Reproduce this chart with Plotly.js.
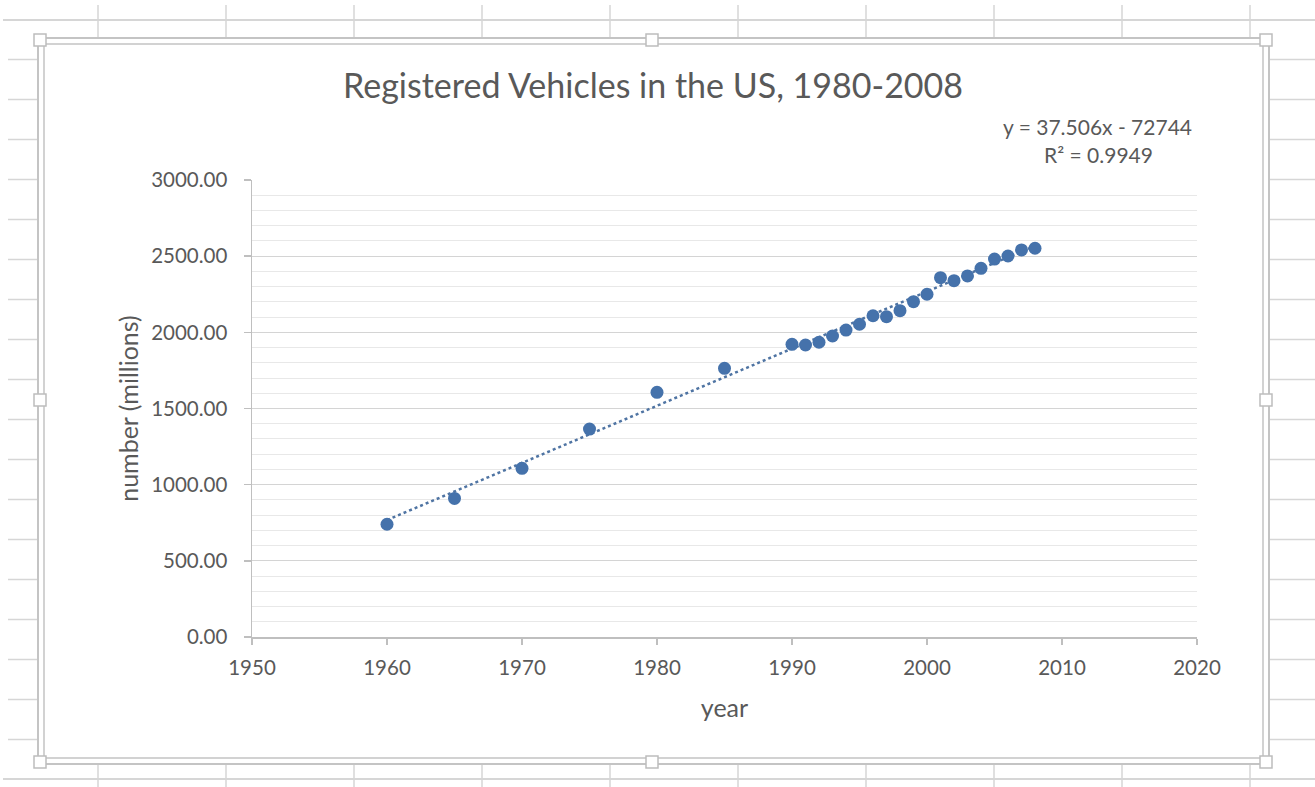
<!DOCTYPE html>
<html>
<head>
<meta charset="utf-8">
<script src="https://cdn.plot.ly/plotly-3.0.1.min.js"></script>
<style>
  html, body { margin: 0; padding: 0; background: #ffffff; }
  #chart { width: 1315px; height: 787px; }
</style>
</head>
<body>
<div id="chart"></div>
<script>
// ---- data ----
const years = [1960, 1965, 1970, 1975, 1980, 1985, 1990, 1991, 1992, 1993, 1994, 1995, 1996, 1997, 1998, 1999, 2000, 2001, 2002, 2003, 2004, 2005, 2006, 2007, 2008];
const vehicles = [740, 910, 1107, 1365, 1606, 1764, 1921, 1917, 1935, 1976, 2015, 2053, 2109, 2103, 2142, 2201, 2250, 2359, 2339, 2370, 2420, 2481, 2501, 2541, 2552];
const trendSlope = 37.506;
const trendIntercept = -72744;
const trendSpan = [1960, 2008];
const equationText = "y = 37.506x - 72744";
const r2Text = "R² = 0.9949";
const chartTitle = "Registered Vehicles in the US, 1980-2008";
const xTitle = "year";
const yTitle = "number (millions)";

// ---- page geometry ----
const W = 1315, H = 787;
const L = 252, R = 1197, T = 180, B = 637;
const xp = px => (px - L) / (R - L);
const yp = py => (B - py) / (B - T);

const FONT = "Lato, 'Open Sans', sans-serif";
const TXT = "#595959";
const sheet = "#d6d6d6";
const frame = "#c4c4c4";

const shapes = [];
function line(x0, y0, x1, y1, color, width) {
  shapes.push({type: "line", xref: "paper", yref: "paper",
    x0: xp(x0), y0: yp(y0), x1: xp(x1), y1: yp(y1),
    line: {color: color, width: width}, layer: "above"});
}
function rect(x0, y0, x1, y1, color, width, fill) {
  shapes.push({type: "rect", xref: "paper", yref: "paper",
    x0: xp(x0), y0: yp(y0), x1: xp(x1), y1: yp(y1),
    line: {color: color, width: width}, fillcolor: fill || "rgba(0,0,0,0)", layer: "above"});
}
// spreadsheet cell grid behind the chart object
line(3, 20, W, 20, sheet, 2);
line(3, 779, W, 779, sheet, 2);
for (let k = 0; k < 18; k++) {
  const y = 59.5 + 40 * k;
  line(8, y, 37, y, sheet, 1.5);
  line(1270, y, W, y, sheet, 1.5);
}
for (let k = 0; k < 10; k++) {
  const x = 98 + 128 * k;
  line(x, 5, x, 37, sheet, 1.5);
  line(x, 765, x, 787, sheet, 1.5);
}
// chart object frame (double line) and handles
rect(38, 38, 1269, 764, frame, 2);
rect(44, 44, 1263, 758, frame, 1.5);
[[40, 40], [652, 40], [1266, 40], [40, 400], [1266, 400], [40, 762], [652, 762], [1266, 762]].forEach(p => {
  rect(p[0] - 6, p[1] - 6, p[0] + 6, p[1] + 6, "#bdbdbd", 1.5, "#ffffff");
});

// trendline from the fitted equation
const trendX = trendSpan;
const trendY = trendSpan.map(x => trendSlope * x + trendIntercept);

const data = [
  {
    x: trendX, y: trendY, type: "scatter", mode: "lines",
    line: {color: "#4f74a3", width: 2.5, dash: "dot"},
    hoverinfo: "skip", showlegend: false
  },
  {
    x: years, y: vehicles, type: "scatter", mode: "markers",
    marker: {color: "#4572ab", size: 13, line: {width: 0}},
    showlegend: false
  }
];

const layout = {
  width: W, height: H,
  margin: {l: L, r: W - R, t: T, b: H - B, pad: 0},
  paper_bgcolor: "#ffffff", plot_bgcolor: "#ffffff",
  font: {family: FONT, color: TXT, size: 20.5},
  showlegend: false,
  title: {
    text: chartTitle, font: {family: FONT, size: 34, color: TXT},
    xref: "container", yref: "container", x: 653 / W, y: 1 - 86 / H,
    xanchor: "center", yanchor: "middle"
  },
  xaxis: {
    range: [1950, 2020], dtick: 10, tick0: 1950,
    showgrid: false, zeroline: false,
    showline: true, linecolor: "#bfbfbf", linewidth: 1.5,
    ticks: "outside", ticklen: 6, tickcolor: "#bfbfbf", tickwidth: 1.5,
    tickfont: {family: FONT, size: 20.5, color: TXT},
    ticklabelstandoff: 6,
    title: {text: xTitle, font: {family: FONT, size: 25, color: TXT}, standoff: 21}
  },
  yaxis: {
    range: [0, 3000], dtick: 500, tick0: 0,
    tickformat: ".2f",
    showgrid: true, gridcolor: "#d4d4d4", gridwidth: 1.2,
    minor: {dtick: 100, showgrid: true, gridcolor: "#e8e8e8", gridwidth: 1},
    zeroline: false,
    showline: true, linecolor: "#bfbfbf", linewidth: 1.5,
    ticks: "outside", ticklen: 7, tickcolor: "#bfbfbf", tickwidth: 1.5,
    tickfont: {family: FONT, size: 20.5, color: TXT},
    ticklabelstandoff: 12,
    title: {text: yTitle, font: {family: FONT, size: 25, color: TXT}, standoff: 5}
  },
  annotations: [
    {text: equationText, xref: "paper", yref: "paper", x: xp(1097), y: yp(126),
     xanchor: "center", yanchor: "middle", showarrow: false,
     font: {family: FONT, size: 21, color: TXT}},
    {text: r2Text, xref: "paper", yref: "paper", x: xp(1098), y: yp(154),
     xanchor: "center", yanchor: "middle", showarrow: false,
     font: {family: FONT, size: 21, color: TXT}}
  ],
  shapes: shapes
};

Plotly.newPlot("chart", data, layout, {displayModeBar: false, staticPlot: true});
</script>
</body>
</html>
